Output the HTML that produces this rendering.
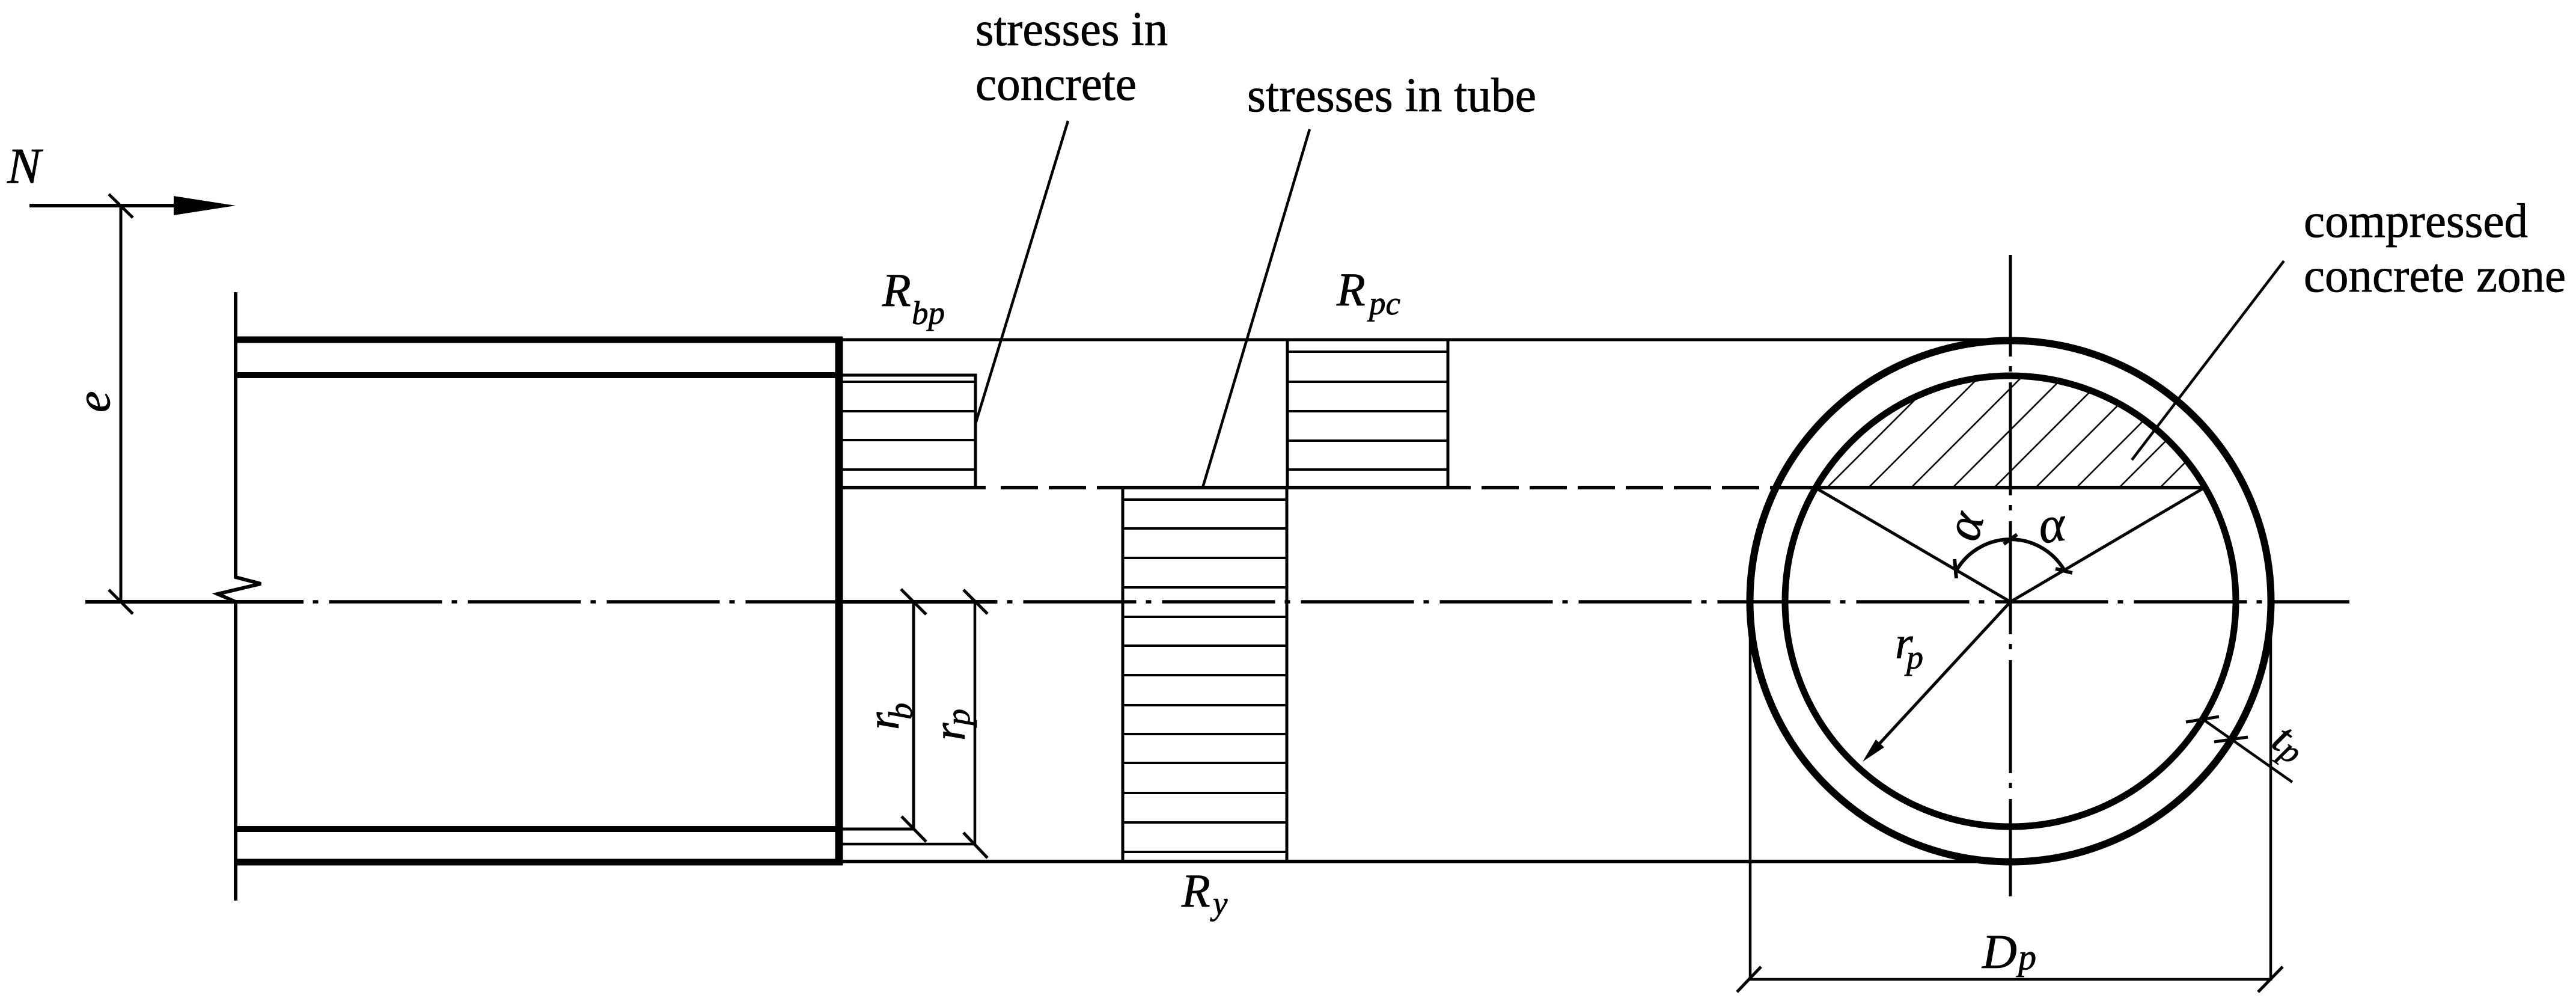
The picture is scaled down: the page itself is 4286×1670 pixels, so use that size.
<!DOCTYPE html>
<html>
<head>
<meta charset="utf-8">
<style>
html,body{margin:0;padding:0;background:#fff;}
svg{display:block;}
text{font-family:"Liberation Serif",serif;fill:#000;stroke:#000;stroke-width:0.8;}
.i{font-style:italic;}
</style>
</head>
<body>
<svg width="4286" height="1670" viewBox="0 0 4286 1670" xmlns="http://www.w3.org/2000/svg">
<defs>
<clipPath id="seg"><path d="M3020 811 A375 375 0 0 1 3668 811 Z"/></clipPath>
</defs>
<rect width="4286" height="1670" fill="#fff"/>
<g stroke="#000" fill="none" stroke-width="4.5">
<!-- stress boxes hatch -->
<path d="M1396 635H1623M1396 684H1623M1396 732H1623M1396 781H1623" stroke-width="4"/>
<path d="M2142 585H2409M2142 635H2409M2142 684H2409M2142 733H2409M2142 781H2409" stroke-width="4"/>
<path d="M1868 831H2141M1868 879H2141M1868 928H2141M1868 977H2141M1868 1026H2141M1868 1074H2141M1868 1123H2141M1868 1173H2141M1868 1221H2141M1868 1269H2141M1868 1319H2141M1868 1368H2141M1868 1417H2141" stroke-width="4"/>
<path d="M1396 624H1623V811" stroke-width="5"/>
<path d="M2142 565V811M2409 565V811" stroke-width="5"/>
<path d="M1868 811V1433M2141 811V1433" stroke-width="5"/>
<!-- long horizontals -->
<path d="M1396 565H3345" stroke-width="5"/>
<path d="M1396 1433H3345" stroke-width="6"/>
<!-- dashed line -->
<path d="M1665 811H3022" stroke-width="6" stroke-dasharray="62 18"/>
<path d="M1396 811H1640M1868 811H2409M3000 811H3668" stroke-width="6"/>
<!-- hatching -->
<g clip-path="url(#seg)" stroke-width="2.6">
<path d="M3040 811l300 -300M3109 811l300 -300M3180 811l300 -300M3249 811l300 -300M3318 811l300 -300M3387 811l300 -300M3455 811l300 -300M3526 811l300 -300M3594 811l300 -300"/>
</g>
<!-- center lines -->
<path d="M316.5 1001H3909" stroke-width="5.5" stroke-dasharray="188 16 9 18"/>
<path d="M142 1001H505M1396 1001H1658" stroke-width="6"/>
<path d="M3345 424V1491" stroke-width="5" stroke-dasharray="188 16 9 18" style="stroke-dashoffset:19"/>
<!-- member -->
<path d="M392 486V960L434 971L362 988L392 1001V1498" stroke-width="6"/>
<path d="M390 565H1402M390 1434H1402" stroke-width="11"/>
<path d="M390 624H1402M390 1379H1402" stroke-width="10"/>
<path d="M1396 560V1439" stroke-width="13"/>
<!-- N arrow and e dim -->
<path d="M49 342H300" stroke-width="6"/>
<path d="M201 342V1001" stroke-width="5"/>
<path d="M181 323L221 362M181 981L221 1021" stroke-width="5"/>
<!-- rb rp dims -->
<path d="M1396 1379H1520V1001" stroke-width="5"/>
<path d="M1396 1404H1622V1001" stroke-width="4.5"/>
<path d="M1499 980L1541 1022M1500 1358L1541 1400M1603 981L1643 1021M1603 1385L1643 1427" stroke-width="5"/>
<!-- circles -->
<circle cx="3345" cy="1000" r="433.5" stroke-width="12"/>
<circle cx="3345" cy="1000" r="375" stroke-width="11"/>
<!-- radii -->
<path d="M3020 811L3345 1001L3668 811" stroke-width="5"/>
<path d="M3345 1001L3115 1250" stroke-width="5"/>
<path d="M3255 949A104 104 0 0 1 3435 949" stroke-width="6"/>
<path d="M3252 930L3255 962M3334 905L3356 889M3420 946L3448 953" stroke-width="6"/>
<!-- tp -->
<path d="M3669 1199L3814 1301" stroke-width="4.5"/>
<path d="M3637 1201L3692 1192M3684 1234L3740 1226" stroke-width="5"/>
<!-- Dp -->
<path d="M2912 1040V1629H3778V1040" stroke-width="4.5"/>
<path d="M2890 1650L2930 1608M3757 1650L3798 1608" stroke-width="5"/>
<!-- leaders -->
<path d="M1777 201L1623 705" stroke-width="4.5"/>
<path d="M2179 215L2001 811" stroke-width="4.5"/>
<path d="M3800 434L3547 765" stroke-width="4.5"/>
</g>
<!-- arrowheads -->
<polygon points="289,326 392,342 289,358" fill="#000"/>
<polygon points="3099,1267 3121,1230 3135,1243" fill="#000"/>

<!-- labels -->
<text x="1623" y="75" font-size="80" textLength="320" lengthAdjust="spacingAndGlyphs">stresses in</text>
<text x="1623" y="166" font-size="80" textLength="268" lengthAdjust="spacingAndGlyphs">concrete</text>
<text x="2075" y="185" font-size="80" textLength="481" lengthAdjust="spacingAndGlyphs">stresses in tube</text>
<text x="3833" y="394" font-size="80" textLength="373" lengthAdjust="spacingAndGlyphs">compressed</text>
<text x="3833" y="485" font-size="80" textLength="436" lengthAdjust="spacingAndGlyphs">concrete zone</text>

<text class="i" x="12" y="304" font-size="84">N</text>
<text class="i" transform="translate(182 686) rotate(-90)" font-size="80">e</text>

<text class="i" x="1468" y="509" font-size="78">R</text>
<text class="i" x="1517" y="539" font-size="55">bp</text>
<text class="i" x="2224" y="508" font-size="78">R</text>
<text class="i" x="2278" y="523" font-size="55">pc</text>
<text class="i" x="1966" y="1508" font-size="78">R</text>
<text class="i" x="2018" y="1521" font-size="55">y</text>

<text class="i" transform="translate(1495 1214) rotate(-90)" font-size="76">r</text>
<text class="i" transform="translate(1517 1197) rotate(-90)" font-size="56">b</text>
<text class="i" transform="translate(1605 1232) rotate(-90)" font-size="76">r</text>
<text class="i" transform="translate(1613 1207) rotate(-90)" font-size="56">p</text>

<text class="i" x="3153" y="1095" font-size="76">r</text>
<text class="i" x="3172" y="1112" font-size="56">p</text>

<text class="i" x="3298" y="1610" font-size="80">D</text>
<text class="i" x="3358" y="1612" font-size="60">p</text>

<text class="i" text-anchor="middle" transform="translate(3277 877) rotate(-75) translate(0 19)" font-size="85">α</text>
<text class="i" text-anchor="middle" transform="translate(3415 882) rotate(-8) translate(0 19)" font-size="85">α</text>

<g transform="translate(3776 1240) rotate(35)">
<text class="i" x="0" y="0" font-size="74">t</text>
<text class="i" x="21" y="6" font-size="56">p</text>
</g>
</svg>
</body>
</html>
